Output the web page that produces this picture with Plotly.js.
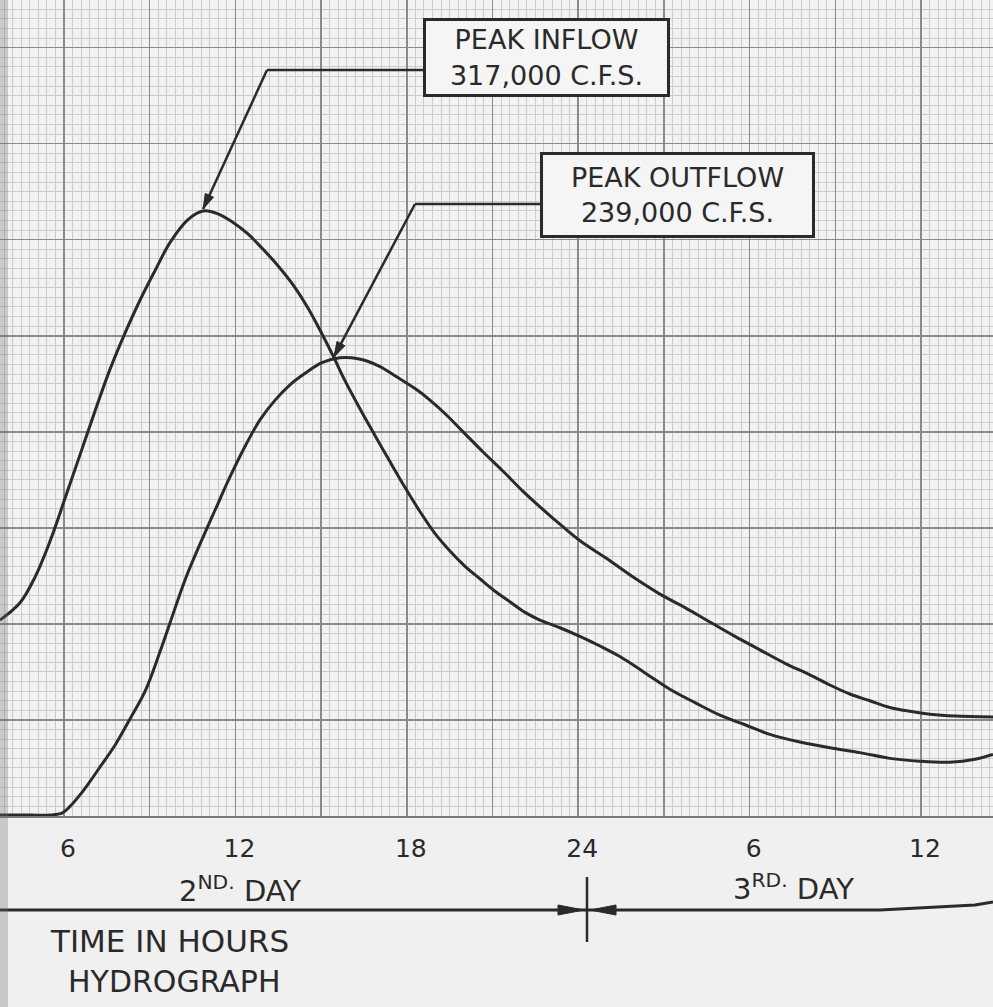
<!DOCTYPE html>
<html>
<head>
<meta charset="utf-8">
<script src="https://cdn.plot.ly/plotly-3.0.1.min.js"></script>
<style>
  html, body { margin: 0; padding: 0; background: #f0f0f0; }
  #chart { width: 993px; height: 1007px; }
</style>
</head>
<body>
<div id="chart"></div>
<script>
// ---- Data (hours counted from start of 2nd day, discharge in c.f.s.) ----
const inflowHours = [3.76, 4.46, 4.99, 5.51, 6.04, 6.56, 7.09, 7.61, 8.14, 8.66, 9.19, 9.71, 10.34, 10.87, 11.39, 11.92, 12.44, 12.97, 13.49, 14.02, 14.54, 14.96, 15.42, 15.84, 16.36, 16.89, 17.41, 17.94, 18.46, 18.99, 19.51, 20.04, 20.56, 21.09, 21.61, 22.14, 22.66, 23.36, 24.06, 24.76, 25.46, 26.34, 27.21, 28.09, 28.96, 29.84, 30.71, 31.76, 32.81, 33.86, 34.91, 35.96, 37.01, 37.89, 38.52];
const inflowCfs   = [102000, 111000, 124500, 143000, 165500, 188000, 211000, 232500, 251500, 268500, 284000, 298500, 310500, 315000, 313500, 309000, 303000, 295000, 286500, 276500, 264500, 253000, 239500, 226500, 212000, 198000, 184500, 171000, 158500, 147000, 138000, 130000, 123500, 117000, 111500, 106000, 102000, 98000, 93500, 88500, 83000, 74500, 66000, 59000, 52500, 47500, 42500, 38500, 35500, 33000, 30000, 28500, 28000, 29500, 32000];

const outflowHours = [3.76, 4.81, 5.51, 5.93, 6.21, 6.56, 6.91, 7.26, 7.79, 8.31, 8.84, 9.36, 9.71, 10.24, 10.76, 11.29, 11.81, 12.34, 12.86, 13.39, 13.91, 14.44, 15.03, 15.66, 16.29, 16.99, 17.66, 18.29, 18.81, 19.37, 19.97, 20.67, 21.37, 22.07, 22.77, 23.43, 24.09, 25.00, 25.91, 26.86, 27.74, 28.61, 29.49, 30.36, 31.24, 32.11, 32.81, 33.51, 34.21, 34.91, 35.61, 36.31, 37.19, 38.52];
const outflowCfs   = [500, 500, 500, 1500, 5000, 11000, 18000, 25500, 37000, 50500, 65000, 85500, 100500, 123000, 141500, 159300, 176500, 192500, 206200, 216500, 224500, 230500, 236000, 238500, 238000, 234500, 228500, 222500, 216500, 209000, 200000, 189500, 179500, 169000, 159500, 151000, 143000, 134000, 124500, 115500, 108500, 101000, 93500, 86500, 79500, 73500, 68200, 63500, 60000, 56500, 54500, 53000, 52000, 51500];

const labelHours = [6, 12, 18, 24, 30, 36];
const labelTexts = ['6', '12', '18', '24', '6', '12'];

const peakInflowLabel  = 'PEAK INFLOW<br>317,000 C.F.S.';
const peakOutflowLabel = 'PEAK OUTFLOW<br>239,000 C.F.S.';
const day2Label = '2<sup>ND.</sup> DAY';
const day3Label = '3<sup>RD.</sup> DAY';
const axisLabel = 'TIME IN HOURS';
const chartLabel = 'HYDROGRAPH';

// ---- Layout geometry ----
const W = 993, H = 1007, PLOT_H = 816;
const xRange = [3.76, 38.52];
const yRange = [0, 424800];
const ink = '#2a2a2a';
const FONT = 'DejaVu Sans, Liberation Sans, sans-serif';

// pixel helpers (layout placement only)
const PX = px => px / W;
const PY = py => (PLOT_H - py) / PLOT_H;
const XH = px => xRange[0] + px / W * (xRange[1] - xRange[0]);
const YV = py => yRange[0] + (PLOT_H - py) / PLOT_H * (yRange[1] - yRange[0]);
const pxOfX = h => (h - xRange[0]) / (xRange[1] - xRange[0]) * W;
const pyOfY = v => PLOT_H - (v - yRange[0]) / (yRange[1] - yRange[0]) * PLOT_H;

function peakOf(xs, ys) {
  let k = 0;
  ys.forEach((v, i) => { if (v > ys[k]) k = i; });
  return { x: xs[k], y: ys[k] };
}
const pIn = peakOf(inflowHours, inflowCfs);
const pOut = peakOf(outflowHours, outflowCfs);

const traces = [
  { x: inflowHours, y: inflowCfs, type: 'scatter', mode: 'lines', name: 'Inflow',
    line: { color: ink, width: 3, shape: 'spline', smoothing: 1 }, hoverinfo: 'skip' },
  { x: outflowHours, y: outflowCfs, type: 'scatter', mode: 'lines', name: 'Outflow',
    line: { color: ink, width: 3, shape: 'spline', smoothing: 1 }, hoverinfo: 'skip' },
  // invisible trace so the labelling axis is drawn
  { x: labelHours, y: labelHours.map(() => 0), xaxis: 'x2', yaxis: 'y', type: 'scatter', mode: 'markers',
    marker: { opacity: 0, size: 1 }, hoverinfo: 'skip', showlegend: false }
];

// arrowhead (filled triangle) in data coordinates, built in pixel space
function headPath(tipPx, fromPx, len, half) {
  const dx = tipPx[0] - fromPx[0], dy = tipPx[1] - fromPx[1];
  const L = Math.hypot(dx, dy), ux = dx / L, uy = dy / L;
  const bx = tipPx[0] - ux * len, by = tipPx[1] - uy * len;
  const nx = -uy, ny = ux;
  const pts = [tipPx, [bx + nx * half, by + ny * half], [bx - nx * half, by - ny * half]];
  return 'M ' + pts.map(p => XH(p[0]) + ',' + YV(p[1])).join(' L ') + ' Z';
}
function headPathPaper(tipPx, dir, len, half) {
  const bx = tipPx[0] - dir * len;
  const pts = [tipPx, [bx, tipPx[1] - half], [bx, tipPx[1] + half]];
  return 'M ' + pts.map(p => PX(p[0]) + ',' + PY(p[1])).join(' L ') + ' Z';
}

const elbowInPx = [267, 70], elbowOutPx = [415, 204];
const tipInPx = [pxOfX(pIn.x), pyOfY(pIn.y) - 2];
const tipOutPx = [pxOfX(pOut.x) - 6, pyOfY(pOut.y) - 1];

const shapes = [
  { type: 'line', xref: 'x', yref: 'y', x0: XH(elbowInPx[0]), y0: YV(elbowInPx[1]), x1: XH(424), y1: YV(elbowInPx[1]),
    line: { color: ink, width: 2.5 } },
  { type: 'line', xref: 'x', yref: 'y', x0: XH(elbowOutPx[0]), y0: YV(elbowOutPx[1]), x1: XH(541), y1: YV(elbowOutPx[1]),
    line: { color: ink, width: 2.5 } },
  { type: 'line', xref: 'x', yref: 'y', x0: XH(elbowInPx[0]), y0: YV(elbowInPx[1]), x1: XH(tipInPx[0]), y1: YV(tipInPx[1]),
    line: { color: ink, width: 2.5 } },
  { type: 'line', xref: 'x', yref: 'y', x0: XH(elbowOutPx[0]), y0: YV(elbowOutPx[1]), x1: XH(tipOutPx[0]), y1: YV(tipOutPx[1]),
    line: { color: ink, width: 2.5 } },
  { type: 'path', xref: 'x', yref: 'y', path: headPath(tipInPx, elbowInPx, 15, 4.5),
    fillcolor: ink, line: { color: ink, width: 1 } },
  { type: 'path', xref: 'x', yref: 'y', path: headPath(tipOutPx, elbowOutPx, 15, 4.5),
    fillcolor: ink, line: { color: ink, width: 1 } },
  // day bar line
  { type: 'path', xref: 'paper', yref: 'paper',
    path: `M 0,${PY(910)} L ${PX(880)},${PY(910)} L ${PX(975)},${PY(905)} L ${PX(993)},${PY(902)}`,
    line: { color: ink, width: 3 } },
  { type: 'path', xref: 'paper', yref: 'paper', path: headPathPaper([584, 910], 1, 26, 5),
    fillcolor: ink, line: { color: ink, width: 1 } },
  { type: 'path', xref: 'paper', yref: 'paper', path: headPathPaper([590, 910], -1, 26, 5),
    fillcolor: ink, line: { color: ink, width: 1 } },
  { type: 'line', xref: 'paper', yref: 'paper', x0: PX(587), x1: PX(587), y0: PY(877), y1: PY(942),
    line: { color: ink, width: 2.5 } },
  // scan shadow at left edge
  { type: 'rect', xref: 'paper', yref: 'paper', x0: 0, x1: PX(8), y0: PY(1007), y1: 1,
    fillcolor: 'rgba(110,110,110,0.30)', line: { width: 0 }, layer: 'above' }
];

const textFont = (size) => ({ family: FONT, size: size, color: ink });

const annotations = [
  { xref: 'paper', yref: 'paper', x: PX(423), y: PY(18), xanchor: 'left', yanchor: 'top',
    text: peakInflowLabel, showarrow: false, align: 'center', valign: 'middle',
    width: 241, height: 73, borderwidth: 3, borderpad: 0, bordercolor: ink, bgcolor: '#f5f5f5',
    font: textFont(27) },
  { xref: 'paper', yref: 'paper', x: PX(540), y: PY(152), xanchor: 'left', yanchor: 'top',
    text: peakOutflowLabel, showarrow: false, align: 'center', valign: 'middle',
    width: 269, height: 80, borderwidth: 3, borderpad: 0, bordercolor: ink, bgcolor: '#f5f5f5',
    font: textFont(27) },
  { xref: 'paper', yref: 'paper', x: PX(240), y: PY(889), xanchor: 'center', yanchor: 'middle',
    text: day2Label, showarrow: false, font: textFont(29) },
  { xref: 'paper', yref: 'paper', x: PX(793), y: PY(887), xanchor: 'center', yanchor: 'middle',
    text: day3Label, showarrow: false, font: textFont(29) },
  { xref: 'paper', yref: 'paper', x: PX(48), y: PY(941), xanchor: 'left', yanchor: 'middle',
    text: axisLabel, showarrow: false, font: textFont(31) },
  { xref: 'paper', yref: 'paper', x: PX(66), y: PY(981), xanchor: 'left', yanchor: 'middle',
    text: chartLabel, showarrow: false, font: textFont(30) }
];

const layout = {
  width: W, height: H,
  margin: { l: 0, r: 0, t: 0, b: H - PLOT_H, pad: 0 },
  paper_bgcolor: '#f0f0f0',
  plot_bgcolor: '#f2f2f2',
  showlegend: false,
  xaxis: {
    range: xRange, tickmode: 'linear', tick0: 0, dtick: 3,
    ticks: '', showticklabels: false,
    showgrid: true, gridcolor: '#8a8a8a', gridwidth: 1.5,
    minor: { tickmode: 'linear', tick0: 0, dtick: 0.3, showgrid: true, gridcolor: '#cbcbcb', gridwidth: 1, ticks: '' },
    showline: true, linecolor: '#7a7a7a', linewidth: 2, zeroline: false, fixedrange: true
  },
  xaxis2: {
    range: xRange, overlaying: 'x', anchor: 'y', side: 'bottom',
    tickmode: 'array', tickvals: labelHours, ticktext: labelTexts,
    ticks: '', ticklabelstandoff: 15, ticklabelshift: 4,
    tickfont: { family: FONT, size: 25, color: ink },
    showgrid: false, zeroline: false, showline: false, fixedrange: true
  },
  yaxis: {
    range: yRange, tickmode: 'linear', tick0: 0, dtick: 50000,
    showticklabels: false, ticks: '',
    showgrid: true, gridcolor: '#8a8a8a', gridwidth: 1.5,
    minor: { tickmode: 'linear', tick0: 0, dtick: 5000, showgrid: true, gridcolor: '#cbcbcb', gridwidth: 1, ticks: '' },
    zeroline: false, showline: false, fixedrange: true
  },
  shapes: shapes,
  annotations: annotations
};

Plotly.newPlot('chart', traces, layout, { staticPlot: true, displayModeBar: false });
</script>
</body>
</html>
